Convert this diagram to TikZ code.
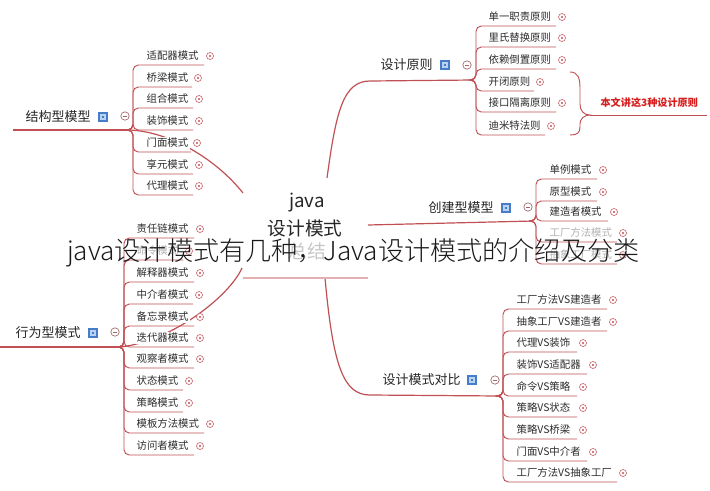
\documentclass[tikz,border=0pt]{standalone}
\usepackage{fontspec}
\setmainfont{Noto Sans CJK SC}
\IfFontExistsTF{Noto Sans CJK SC Light}{\newfontfamily\titlefont{Noto Sans CJK SC Light}\def\titlecol{black!90}}{\newfontfamily\titlefont{Noto Sans CJK SC}\def\titlecol{black!70}}
\definecolor{linec}{RGB}{192,80,84}
\definecolor{txtc}{RGB}{45,45,45}
\definecolor{iconb}{RGB}{70,125,200}
\definecolor{iconl}{RGB}{185,210,240}
\definecolor{redlab}{RGB}{215,30,30}
\tikzset{
  sub/.style={draw=linec,line width=0.7pt,rounded corners=4pt},
  mainline/.style={draw=linec,line width=0.9pt},
  item/.style={anchor=west,inner sep=1pt,fill=white,text=txtc,font=\fontsize{7.8pt}{9pt}\selectfont},
  faded/.style={text=black!30},
  topic/.style={anchor=west,inner sep=1pt,text=black!85,font=\fontsize{9.75pt}{11pt}\selectfont},
  centertxt/.style={inner sep=1pt,text=black!85,font=\fontsize{14pt}{16pt}\selectfont},
}
\newcommand\plusic[2]{%
  \draw[linec!85,line width=0.5pt,fill=white] (#1,#2) circle[radius=3.5];
  \fill[linec] (#1,#2) circle[radius=1.2];}
\newcommand\minusic[2]{%
  \draw[linec!50!gray,line width=0.5pt,fill=white] (#1,#2) circle[radius=4.2];
  \draw[linec!50!gray,line width=0.5pt] (#1-2.2,#2) -- (#1+2.2,#2);}
\newcommand\noteic[2]{%
  \fill[iconb] (#1-5,#2-5) rectangle (#1+5,#2+5);
  \fill[iconl] (#1-3,#2-3) rectangle (#1+3,#2+3);
  \fill[iconb] (#1-1.3,#2-1.3) rectangle (#1+1.3,#2+1.3);}
% #1 text style, #2 name, #3 vertex, #4 (unused), #5 text x, #6 y, #7 plus x, #8 text
\newcommand\mmitem[8][]{%
  \coordinate (#2-e) at (#7-6,#6+9);
  \draw[sub] (#3) -- ++(3,0) |- (#2-e);
  \node[item,#1] (#2) at (#5,#6) {#8};
  \plusic{#7}{#6}}
\begin{document}
\begin{tikzpicture}[x=0.75pt,y=-0.75pt]
\useasboundingbox[fill=white] (0,0) rectangle (710,490);
% vertices
\coordinate (S) at (130,130);
\coordinate (B) at (121,347);
\coordinate (P) at (473,80);
\coordinate (C) at (533,221);
\coordinate (D) at (500,396);
% center anchors
\coordinate (cs) at (243,193);
\coordinate (cb) at (242,268);
\coordinate (cp) at (327,178);
\coordinate (cc) at (368,225);
\coordinate (cd) at (325,278);
\coordinate (cl) at (243,278);
\coordinate (cr) at (368,278);
\coordinate (Sl) at (13,130);
\coordinate (Bl) at (0,347);
% main connectors
\draw[mainline] (cs) .. controls (215,158) and (170,132) .. (S);
\draw[mainline] (cb) .. controls (230,295) and (175,340) .. (B);
\draw[mainline] (cp) .. controls (336,112) and (343,81) .. (370,81) -- (P);
\draw[mainline] (cc) -- (C);
\draw[mainline] (cd) .. controls (333,365) and (343,395) .. (370,395) -- (D);
\draw[mainline,draw=linec!45] (cl) -- (cr);
\draw[mainline] (Sl) -- (S);
\draw[mainline] (Bl) -- (B);
% center
\node[centertxt] (cj) at (307,203) {java};
\node[centertxt] (cm) at (305,228) {设计模式};
\node[centertxt,text=black!22] (cz) at (307,251) {总结};
% topics
\node[topic] (ts) at (24,117) {结构型模型}; \noteic{103}{117} \minusic{125}{116}
\node[topic] (tb) at (14,333) {行为型模式}; \noteic{93}{333} \minusic{115}{332}
\node[topic] (tp) at (379,65) {设计原则}; \noteic{445}{65} \minusic{467}{65}
\node[topic] (tc) at (427,208) {创建型模型}; \noteic{506}{208} \minusic{528}{207}
\node[topic] (td) at (381,380) {设计模式对比}; \noteic{472}{380} \minusic{495}{380}
% structural
\mmitem{s1}{S}{0}{145}{56}{210}{适配器模式}
\mmitem{s2}{S}{0}{145}{78}{198}{桥梁模式}
\mmitem{s3}{S}{0}{145}{99}{199}{组合模式}
\mmitem{s4}{S}{0}{145}{121}{199}{装饰模式}
\mmitem{s5}{S}{0}{145}{143}{197}{门面模式}
\mmitem{s6}{S}{0}{145}{165}{199}{享元模式}
\mmitem{s7}{S}{0}{145}{186}{199}{代理模式}
% behavioural
\mmitem{b1}{B}{0}{135}{229}{200}{责任链模式}
\mmitem[faded]{b2}{B}{0}{135}{251}{189}{命令模式}
\mmitem{b3}{B}{0}{135}{273}{200}{解释器模式}
\mmitem{b4}{B}{0}{135}{295}{199}{中介者模式}
\mmitem{b5}{B}{0}{135}{317}{200}{备忘录模式}
\mmitem{b6}{B}{0}{135}{338}{200}{迭代器模式}
\mmitem{b7}{B}{0}{135}{359}{200}{观察者模式}
\mmitem{b8}{B}{0}{135}{381}{189}{状态模式}
\mmitem{b9}{B}{0}{135}{403}{189}{策略模式}
\mmitem{b10}{B}{0}{135}{424}{210}{模板方法模式}
\mmitem{b11}{B}{0}{135}{446}{200}{访问者模式}
% principles
\mmitem{p1}{P}{0}{487}{17}{562}{单一职责原则}
\mmitem{p2}{P}{0}{487}{38}{562}{里氏替换原则}
\mmitem{p3}{P}{0}{487}{60}{562}{依赖倒置原则}
\mmitem{p4}{P}{0}{487}{82}{540}{开闭原则}
\mmitem{p5}{P}{0}{487}{103}{562}{接口隔离原则}
\mmitem{p6}{P}{0}{487}{126}{551}{迪米特法则}
% creational
\mmitem{c1}{C}{0}{548}{170}{603}{单例模式}
\mmitem{c2}{C}{0}{548}{192}{603}{原型模式}
\mmitem{c3}{C}{0}{548}{212}{614}{建造者模式}
\mmitem[faded]{c4}{C}{0}{548}{233}{623}{工厂方法模式}
\mmitem[faded]{c5}{C}{0}{548}{255}{623}{抽象工厂模式}
% comparisons
\mmitem{d1}{D}{0}{515}{300}{613}{工厂方法VS建造者}
\mmitem{d2}{D}{0}{515}{322}{613}{抽象工厂VS建造者}
\mmitem{d3}{D}{0}{515}{343}{583}{代理VS装饰}
\mmitem{d4}{D}{0}{515}{365}{593}{装饰VS适配器}
\mmitem{d5}{D}{0}{515}{387}{583}{命令VS策略}
\mmitem{d6}{D}{0}{515}{408}{583}{策略VS状态}
\mmitem{d7}{D}{0}{515}{430}{583}{策略VS桥梁}
\mmitem{d8}{D}{0}{515}{452}{593}{门面VS中介者}
\mmitem{d9}{D}{0}{515}{473}{623}{工厂方法VS抽象工厂}
% brace and note
\coordinate (bt) at (570,72);
\coordinate (bk) at (590,115);
\coordinate (bb) at (570,135);
\coordinate (br) at (707,115);
\draw[sub,rounded corners=0pt] (bt) .. controls (578,72) and (580,78) .. (580,88) -- (580,104)
  .. controls (580,111) and (584,115) .. (bk)
  .. controls (584,115) and (580,119) .. (580,124) -- (580,127)
  .. controls (580,133) and (577,135) .. (bb);
\draw[sub] (bk) -- (br);
\node[anchor=west,inner sep=1pt,text=redlab,font=\bfseries\fontsize{7.6pt}{9pt}\selectfont] (note) at (599,103) {本文讲这3种设计原则};
% overlay title
\node[anchor=west,inner sep=0pt,text=\titlecol,font=\titlefont\fontsize{19.6pt}{22pt}\selectfont] (title) at (67,253) {java设计模式有几种，Java设计模式的介绍及分类};
\end{tikzpicture}
\end{document}
